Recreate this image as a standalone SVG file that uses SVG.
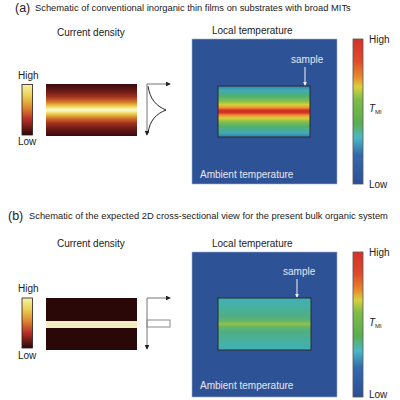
<svg xmlns="http://www.w3.org/2000/svg" width="400" height="400" viewBox="0 0 400 400">
<style>
text{font-family:"Liberation Sans",Arial,sans-serif;fill:#222}
.lab{font-size:10px}
.ttl{font-size:9.35px}
.let{font-size:12.5px}
.wl{font-size:10px;fill:#e6e8f0}
.ax{stroke:#8a8a8a;stroke-width:1.2;fill:none}
.bg{fill:#2e5296;stroke:#9fb0cf;stroke-width:0.6}
.frame{stroke:#2a2a2a;stroke-width:1}
.sarrow{stroke:#d8dbe6;stroke-width:1.2}
</style>
<defs>
<marker id="ah" viewBox="0 0 6 6" refX="5" refY="3" markerWidth="4" markerHeight="4" orient="auto"><path d="M0,0 L6,3 L0,6 z" fill="#222"/></marker>
<marker id="wh" viewBox="0 0 6 6" refX="5" refY="3" markerWidth="3.5" markerHeight="3.5" orient="auto"><path d="M0,0 L6,3 L0,6 z" fill="#f4f4f8"/></marker>
<linearGradient id="cbSmall" x1="0" y1="0" x2="0" y2="1">
<stop offset="0" stop-color="#f6f2a8"/><stop offset="0.22" stop-color="#ead255"/><stop offset="0.45" stop-color="#df8a32"/><stop offset="0.7" stop-color="#b52d26"/><stop offset="1" stop-color="#2a0808"/>
</linearGradient>
<linearGradient id="cdA" x1="0" y1="0" x2="0" y2="1">
<stop offset="0" stop-color="#3a0a0c"/><stop offset="0.14" stop-color="#6a1a16"/><stop offset="0.25" stop-color="#a33420"/><stop offset="0.34" stop-color="#d27228"/><stop offset="0.41" stop-color="#e9c043"/><stop offset="0.47" stop-color="#f5ef95"/><stop offset="0.5" stop-color="#fbf8d6"/><stop offset="0.53" stop-color="#f5ef95"/><stop offset="0.59" stop-color="#e9c043"/><stop offset="0.66" stop-color="#d27228"/><stop offset="0.75" stop-color="#a33420"/><stop offset="0.86" stop-color="#6a1a16"/><stop offset="1" stop-color="#3a0a0c"/>
</linearGradient>
<linearGradient id="jet" x1="0" y1="0" x2="0" y2="1">
<stop offset="0" stop-color="#d6302a"/><stop offset="0.15" stop-color="#dd4a2a"/><stop offset="0.26" stop-color="#e8872e"/><stop offset="0.33" stop-color="#d9d03c"/><stop offset="0.42" stop-color="#7cbc48"/><stop offset="0.58" stop-color="#5aae4e"/><stop offset="0.68" stop-color="#4ab8c6"/><stop offset="0.8" stop-color="#3468ac"/><stop offset="1" stop-color="#2c4f96"/>
</linearGradient>
<linearGradient id="smA" x1="0" y1="0" x2="0" y2="1">
<stop offset="0" stop-color="#3a7db0"/><stop offset="0.08" stop-color="#40aab8"/><stop offset="0.2" stop-color="#4fb072"/><stop offset="0.3" stop-color="#86c04c"/><stop offset="0.37" stop-color="#dccf3c"/><stop offset="0.43" stop-color="#e8902e"/><stop offset="0.47" stop-color="#d9372a"/><stop offset="0.5" stop-color="#d32a26"/><stop offset="0.53" stop-color="#d9372a"/><stop offset="0.57" stop-color="#e8902e"/><stop offset="0.63" stop-color="#dccf3c"/><stop offset="0.7" stop-color="#86c04c"/><stop offset="0.8" stop-color="#4fb072"/><stop offset="0.92" stop-color="#40aab8"/><stop offset="1" stop-color="#3a7db0"/>
</linearGradient>
<linearGradient id="smB" x1="0" y1="0" x2="0" y2="1">
<stop offset="0" stop-color="#3fb0b6"/><stop offset="0.15" stop-color="#46b0a4"/><stop offset="0.35" stop-color="#4fae84"/><stop offset="0.45" stop-color="#66b668"/><stop offset="0.5" stop-color="#92c248"/><stop offset="0.55" stop-color="#66b668"/><stop offset="0.65" stop-color="#4fae84"/><stop offset="0.85" stop-color="#46b0a4"/><stop offset="1" stop-color="#3fb0b6"/>
</linearGradient>
</defs>

<!-- Panel (a) -->
<g id="title-a">
<text class="let" x="15" y="12">(a)</text>
<text class="ttl" x="35" y="11">Schematic of conventional inorganic thin films on substrates with broad MITs</text>
</g>
<g id="cd-a">
<text class="lab" x="57" y="36">Current density</text>
<text class="lab" x="18" y="79">High</text>
<rect x="22" y="84.5" width="10.5" height="50.5" fill="url(#cbSmall)" stroke="#2a1a1a" stroke-width="0.8"/>
<text class="lab" x="18" y="145">Low</text>
<rect x="46" y="84" width="91" height="52" fill="url(#cdA)"/>
</g>
<g id="profile-a">
<path d="M166,110 C156,114 150,120 148,133" fill="none" stroke="#111" stroke-width="0.9"/>
<path d="M148,86 C150,99 156,106 166,110" fill="none" stroke="#111" stroke-width="0.9"/>
</g>
<g id="lt-a">
<text class="lab" x="212" y="34">Local temperature</text>
<rect class="bg" x="192" y="39" width="145" height="145"/>
<rect class="frame" x="218" y="86" width="92" height="51" fill="url(#smA)"/>
<text class="wl" x="291" y="63">sample</text>
<text class="wl" x="200" y="178">Ambient temperature</text>
</g>
<g id="scale-a">
<rect x="353" y="39" width="10" height="145" fill="url(#jet)" stroke="#555" stroke-width="0.8"/>
<text class="lab" x="369" y="43">High</text>
<text class="lab" x="369" y="112" font-style="italic">T<tspan font-size="6" font-style="normal" dy="2">MI</tspan></text>
<text class="lab" x="369" y="188">Low</text>
</g>

<!-- Panel (b) -->
<g id="title-b">
<text class="let" x="8" y="220">(b)</text>
<text class="ttl" x="29" y="219">Schematic of the expected 2D cross-sectional view for the present bulk organic system</text>
</g>
<g id="cd-b">
<text class="lab" x="57" y="247">Current density</text>
<text class="lab" x="18" y="292">High</text>
<rect x="22" y="298" width="10.5" height="50" fill="url(#cbSmall)" stroke="#2a1a1a" stroke-width="0.8"/>
<text class="lab" x="18" y="359">Low</text>
<rect x="46" y="298" width="91" height="52" fill="#2a0807"/>
<rect x="46" y="321" width="91" height="7" fill="#eef0c2"/>
</g>
<g id="profile-b">
<rect x="147" y="320" width="23" height="7" fill="#fff" stroke="#8a8a8a" stroke-width="1"/>
</g>
<g id="lt-b">
<text class="lab" x="212" y="247">Local temperature</text>
<rect class="bg" x="192" y="252" width="145" height="145"/>
<rect class="frame" x="218" y="298" width="93" height="52" fill="url(#smB)"/>
<text class="wl" x="283" y="275">sample</text>
<text class="wl" x="200" y="389">Ambient temperature</text>
</g>
<g id="scale-b">
<rect x="353" y="252" width="10" height="145" fill="url(#jet)" stroke="#555" stroke-width="0.8"/>
<text class="lab" x="369" y="256">High</text>
<text class="lab" x="369" y="326" font-style="italic">T<tspan font-size="6" font-style="normal" dy="2">MI</tspan></text>
<text class="lab" x="369" y="398">Low</text>
</g>

<g id="connectors">
<line class="ax" x1="147" y1="84" x2="170" y2="84" marker-end="url(#ah)"/>
<line class="ax" x1="147" y1="84" x2="147" y2="135" marker-end="url(#ah)"/>
<line class="sarrow" x1="305" y1="67" x2="305" y2="85" marker-end="url(#wh)"/>
<line class="ax" x1="147" y1="298" x2="170" y2="298" marker-end="url(#ah)"/>
<line class="ax" x1="147" y1="298" x2="147" y2="349" marker-end="url(#ah)"/>
<line class="sarrow" x1="297" y1="279" x2="297" y2="297" marker-end="url(#wh)"/>
</g>
</svg>
